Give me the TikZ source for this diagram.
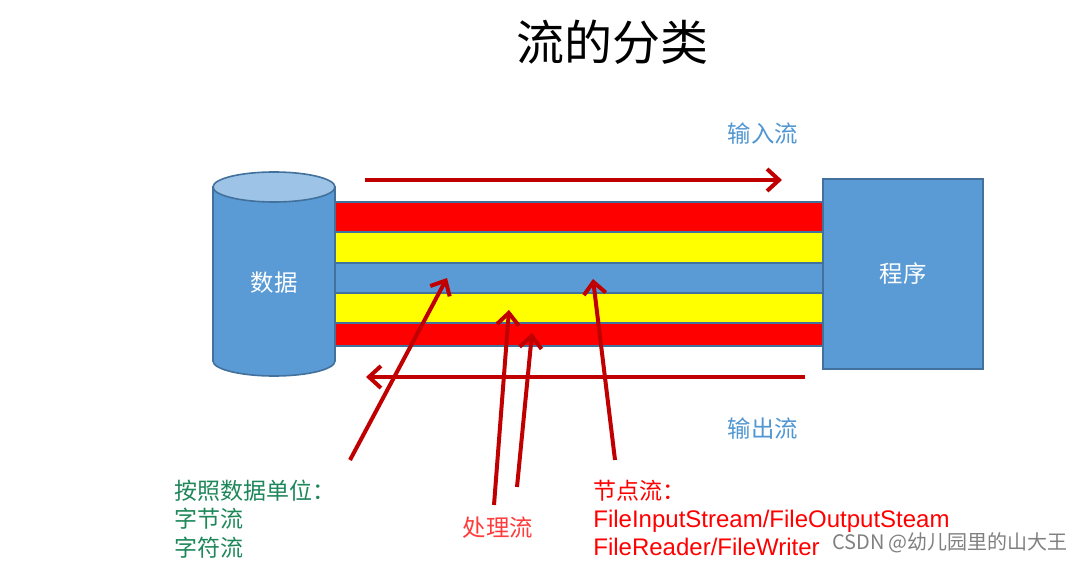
\documentclass[tikz,border=0pt]{standalone}
\usepackage{fontspec}
\setmainfont{Liberation Sans}
\newfontfamily\cjk{Noto Sans CJK SC}
\usetikzlibrary{arrows.meta}
\definecolor{cblue}{HTML}{5B9BD5}
\definecolor{cblueL}{HTML}{9DC3E6}
\definecolor{cedge}{HTML}{41719C}
\definecolor{darkred}{HTML}{C00000}
\definecolor{cgreen}{RGB}{30,135,90}
\definecolor{lblred}{HTML}{FF3B3B}
\definecolor{lblblue}{RGB}{80,150,210}
\definecolor{pureyellow}{RGB}{255,255,0}
\begin{document}
\begin{tikzpicture}[x=0.5pt,y=-0.5pt,
  flow/.style={darkred,line width=2pt,-{Straight Barb[length=6pt,width=11pt]}},
  stripe/.style={draw=cedge,line width=0.6pt},
  cjklabel/.style={font=\cjk\fontsize{11.7}{14.25}\selectfont}]
\useasboundingbox (0,0) rectangle (1080,561);
% title
\node[font=\cjk\fontsize{24}{28}\selectfont] (title) at (612,42) {流的分类};
% stripes
\path[stripe,fill=red]        (335,202) rectangle (823,232);
\path[stripe,fill=pureyellow] (335,232) rectangle (823,263);
\path[stripe,fill=cblue]      (335,263) rectangle (823,293);
\path[stripe,fill=pureyellow] (335,293) rectangle (823,323);
\path[stripe,fill=red]        (335,323) rectangle (823,346);
% cylinder
\filldraw[fill=cblue,draw=cedge,line width=0.8pt] (213,187) -- (213,361)
  arc[start angle=180,end angle=0,x radius=61,y radius=15] -- (335,187) -- cycle;
\filldraw[fill=cblueL,draw=cedge,line width=0.8pt] (274,187) ellipse[x radius=61,y radius=15];
\node[text=white,cjklabel] (data) at (274,283) {数据};
% program
\node[draw=cedge,fill=cblue,line width=0.8pt,minimum width=80pt,minimum height=95pt,
  text=white,cjklabel] (prog) at (903,274) {程序};
% flow arrows
\coordinate (inA) at (365,180); \coordinate (inB) at (782,180);
\coordinate (outA) at (805,377); \coordinate (outB) at (366,377);
\draw[flow] (inA) -- (inB);
\draw[flow] (outA) -- (outB);
\node[text=lblblue,cjklabel] (inl) at (763,134) {输入流};
\node[text=lblblue,cjklabel] (outl) at (763,429) {输出流};
% pointer arrows
\coordinate (p1s) at (350,460); \coordinate (p1e) at (447,278);
\coordinate (p2s) at (494,505); \coordinate (p2e) at (509,310);
\coordinate (p3s) at (517,487); \coordinate (p3e) at (532,333);
\coordinate (p4s) at (615,460); \coordinate (p4e) at (593,279);
\draw[flow] (p1s) -- (p1e);
\draw[flow] (p2s) -- (p2e);
\draw[flow] (p3s) -- (p3e);
\draw[flow] (p4s) -- (p4e);
% labels
\node[anchor=west,align=left,text=cgreen,font=\cjk\fontsize{11.5}{14.25}\selectfont,inner sep=0pt]
  (unit) at (174,519) {按照数据单位：\\字节流\\字符流};
\node[text=lblred,cjklabel] (proc) at (498,528) {处理流};
\node[anchor=west,align=left,text=red,font=\fontsize{12}{14}\selectfont,inner sep=0pt]
  (node) at (593,518) {{\cjk\fontsize{11.5}{14}\selectfont 节点流：}\\FileInputStream/FileOutputSteam\\FileReader/FileWriter};
\node[text=gray,font=\cjk\fontsize{10}{12}\selectfont] (wm) at (950,543) {CSDN @幼儿园里的山大王};
\end{tikzpicture}
\end{document}
